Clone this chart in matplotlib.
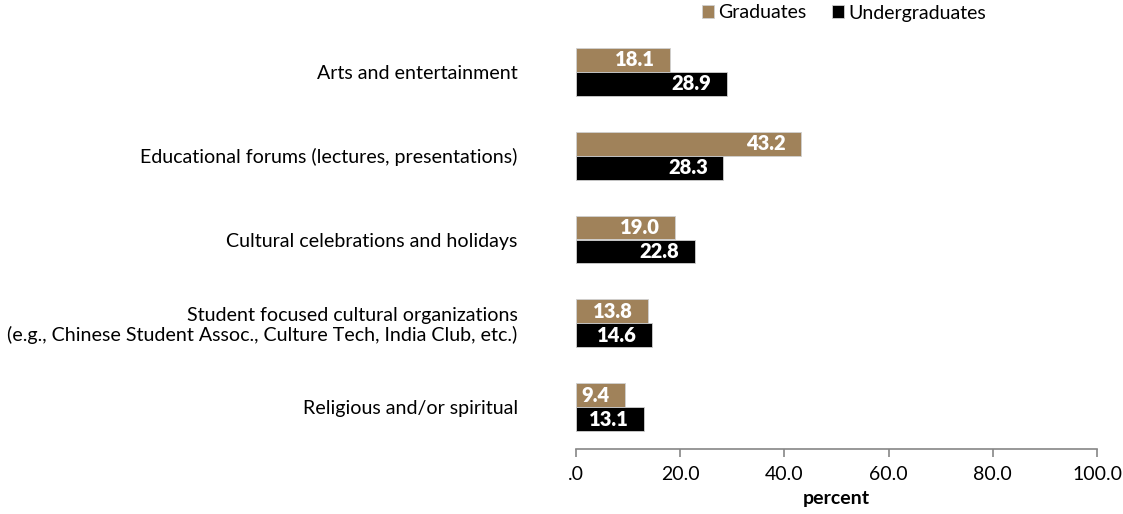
import matplotlib.pyplot as plt
import numpy as np

plt.rcParams['font.family'] = ['Lato', 'DejaVu Sans']

categories = ['Arts and entertainment',
              'Educational forums (lectures, presentations)',
              'Cultural celebrations and holidays',
              'Student focused cultural organizations\n(e.g., Chinese Student Assoc., Culture Tech, India Club, etc.)',
              'Religious and/or spiritual']
graduates = [18.1, 43.2, 19.0, 13.8, 9.4]
undergraduates = [28.9, 28.3, 22.8, 14.6, 13.1]
xticks = [0, 20, 40, 60, 80, 100]
xticklabels = ['.0', '20.0', '40.0', '60.0', '80.0', '100.0']

grad_color = '#A0825A'
ugrad_color = '#000000'
axis_gray = '#868686'

fig = plt.figure(figsize=(11.23, 5.14), dpi=100)
ax = fig.add_axes([576/1123, 1 - 449/514, 521/1123, 419/514])

y = np.arange(len(categories))
h = 0.285
bg = ax.barh(y - h/2, graduates, height=h, color=grad_color, edgecolor='#d0d0d0', linewidth=0.6,
             label='Graduates')
bu = ax.barh(y + h/2, undergraduates, height=h, color=ugrad_color, edgecolor='#d0d0d0', linewidth=0.6,
             label='Undergraduates')

# value labels sit inside the bar ends
for bars, vals in ((bg, graduates), (bu, undergraduates)):
    for b, v in zip(bars, vals):
        ax.annotate(f'{v:.1f}', (v, b.get_y() + b.get_height()/2),
                    xytext=(-11, 0), textcoords='offset points',
                    ha='right', va='center', color='white', fontsize=14.5, fontweight='heavy')

ax.set_xlim(0, 100)
ax.set_ylim(len(categories) - 0.5, -0.5)
ax.set_yticks(y)
ax.set_yticklabels(categories, fontsize=14.1, ha='right', multialignment='right', linespacing=1.1)
ax.tick_params(axis='y', length=0, pad=42)
ax.set_xticks(xticks)
ax.set_xticklabels(xticklabels, fontsize=14)
ax.tick_params(axis='x', direction='out', length=6, width=1.2, color=axis_gray, pad=6)
ax.set_xlabel('percent', fontsize=14, fontweight='bold', labelpad=5)

for s in ('top', 'right', 'left'):
    ax.spines[s].set_visible(False)
ax.spines['bottom'].set_color(axis_gray)
ax.spines['bottom'].set_linewidth(1.2)

fig.legend(handles=[bg, bu], labels=['Graduates', 'Undergraduates'], loc='center',
           bbox_to_anchor=(844/1123, 1 - 13/514), ncol=2, frameon=False, fontsize=14,
           handlelength=0.6, handleheight=0.6, handletextpad=0.25, columnspacing=1.3)

fig.savefig('out.png', dpi=100)
